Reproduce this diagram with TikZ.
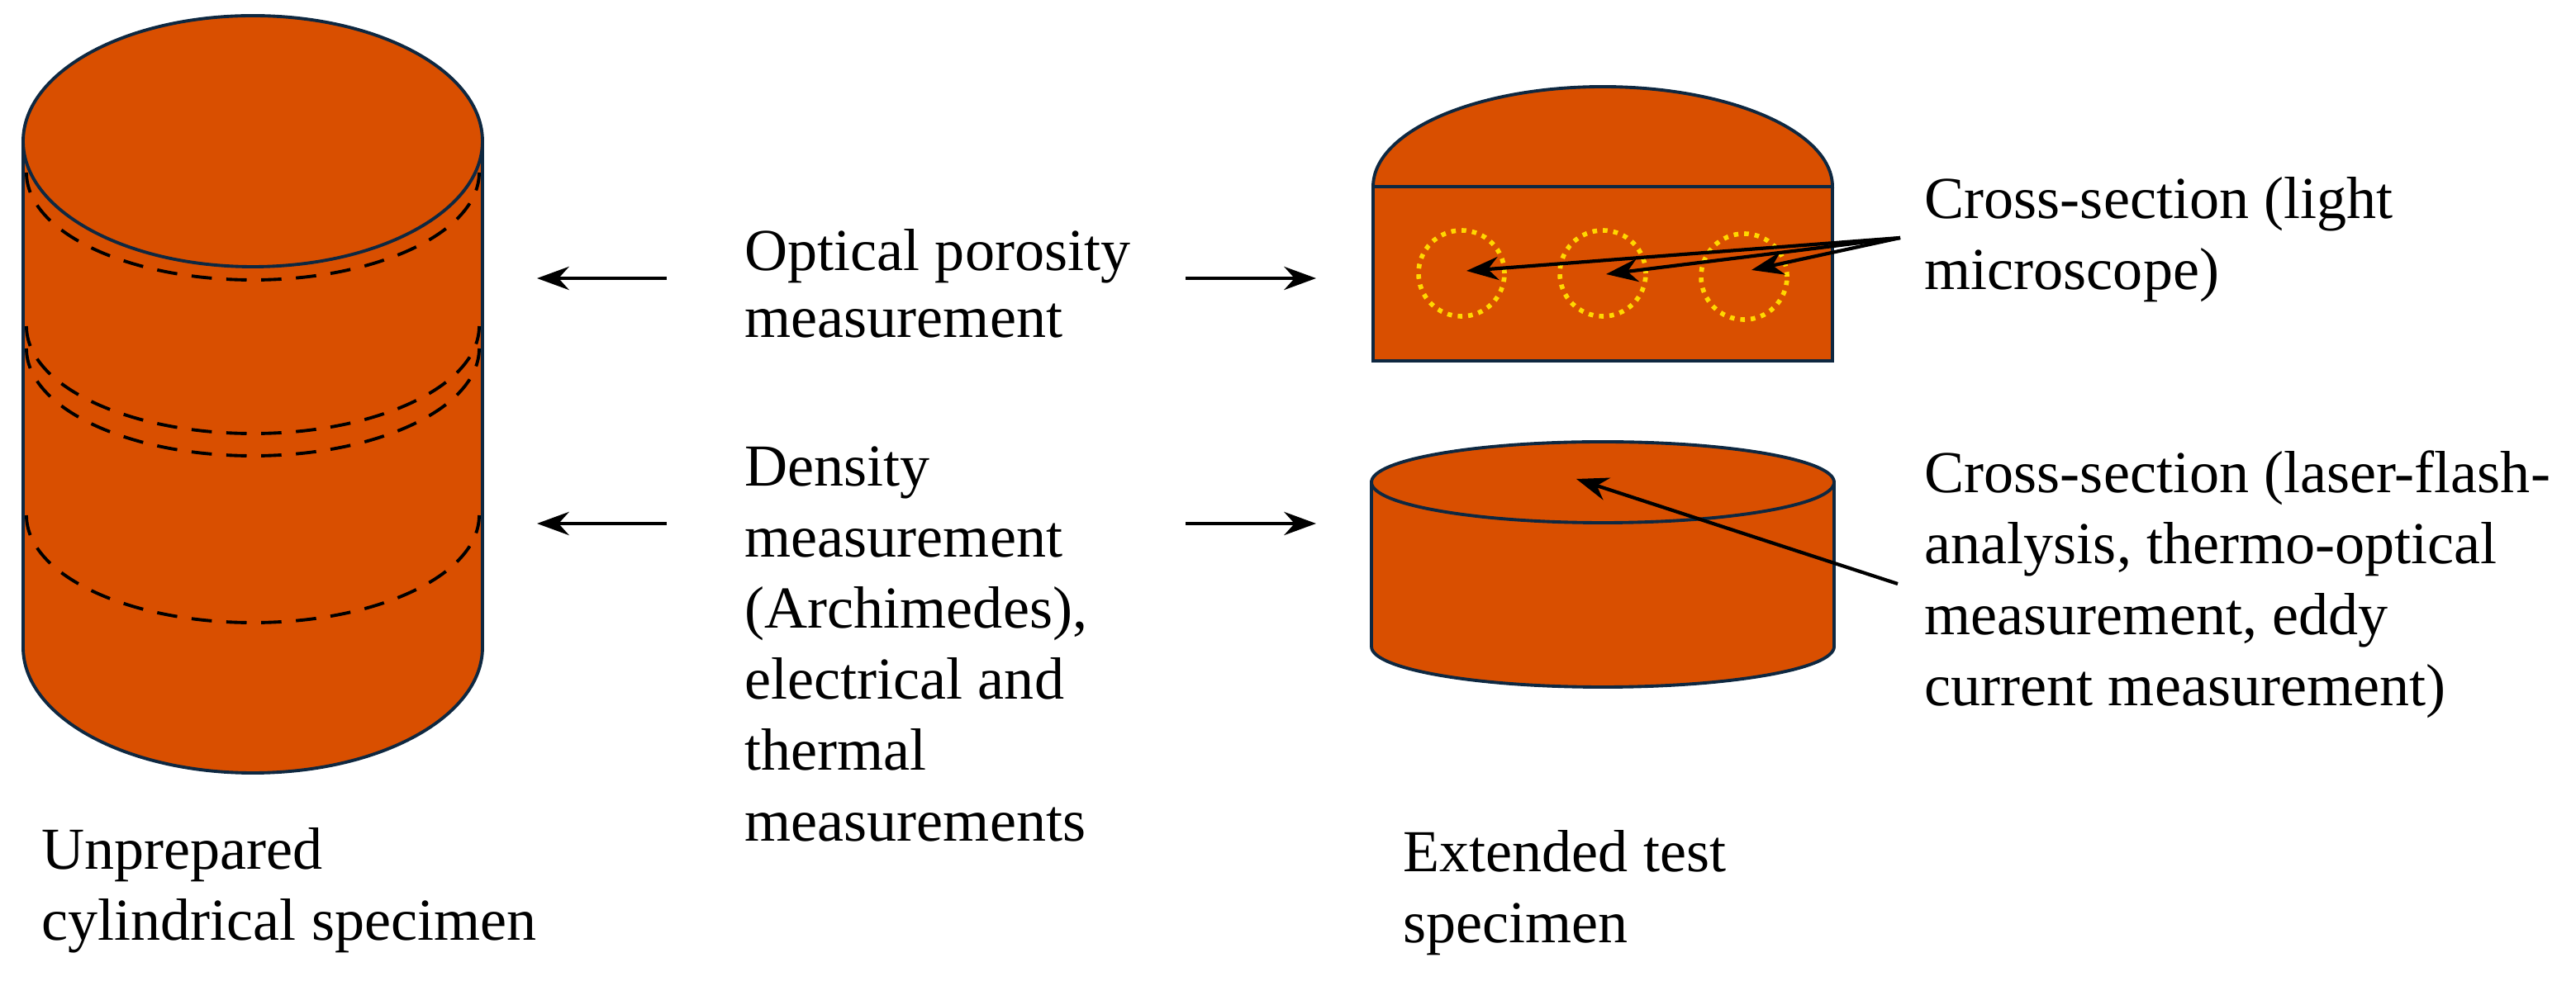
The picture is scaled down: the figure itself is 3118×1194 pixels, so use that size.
\documentclass[tikz,border=0pt]{standalone}
\usepackage{fontspec}
\setmainfont{Liberation Serif}
\usetikzlibrary{arrows.meta}
\definecolor{fillor}{HTML}{D94F00}
\definecolor{edge}{HTML}{0E2841}
\definecolor{pore}{HTML}{FFD800}
\begin{document}
\begin{tikzpicture}[x=0.01cm,y=0.01cm,
  solid/.style={fill=fillor,draw=edge,line width=1.1pt},
  cut/.style={black,line width=1.1pt,dash pattern=on 7pt off 5pt},
  arr/.style={-{Stealth[length=11pt,width=8pt]},line width=1.2pt,black},
  lab/.style={anchor=west,align=left,inner sep=0pt,font=\fontsize{20.5pt}{23pt}\selectfont}]
\useasboundingbox (0,0) rectangle (3118,1194);
% big cylinder
\draw[solid] (28,1023) -- (28,410) arc[start angle=180,end angle=360,x radius=278,y radius=152] -- (584,1023) -- cycle;
\draw[solid] (306,1023) ellipse[x radius=278,y radius=152];
\foreach \c in {985,799,772,570}
  \draw[cut] (32,\c) arc[start angle=180,end angle=360,x radius=274,y radius=130];
% top right specimen
\draw[solid] (1662,968) arc[start angle=180,end angle=0,x radius=278,y radius=121] -- cycle;
\draw[solid] (1662,757) rectangle (2218,968);
\node[circle,draw=pore,dotted,line width=1.6pt,minimum size=1.04cm,inner sep=0pt] (p1) at (1769,863) {};
\node[circle,draw=pore,dotted,line width=1.6pt,minimum size=1.04cm,inner sep=0pt] (p2) at (1940,863) {};
\node[circle,draw=pore,dotted,line width=1.6pt,minimum size=1.04cm,inner sep=0pt] (p3) at (2111,859) {};
% small cylinder
\draw[solid] (1660,610) -- (1660,411) arc[start angle=180,end angle=360,x radius=280,y radius=49] -- (2220,610) -- cycle;
\draw[solid] (1940,610) ellipse[x radius=280,y radius=49];
% texts
\node[lab] (opt) at (901,851) {Optical porosity\\measurement};
\node[lab,font=\fontsize{20.5pt}{24.5pt}\selectfont] (den) at (901,414) {Density\\measurement\\(Archimedes),\\electrical and\\thermal\\measurements};
\node[lab,font=\fontsize{20.5pt}{24.5pt}\selectfont] (unp) at (50,116) {Unprepared\\cylindrical specimen};
\node[lab,font=\fontsize{20.5pt}{24.5pt}\selectfont] (ext) at (1698,113) {Extended test\\specimen};
\node[lab,font=\fontsize{20.5pt}{24.5pt}\selectfont] (csl) at (2329,904) {Cross-section (light\\microscope)};
\node[lab,font=\fontsize{20.5pt}{24.5pt}\selectfont] (csf) at (2329,486) {Cross-section (laser-flash-\\analysis, thermo-optical\\measurement, eddy\\current measurement)};
% arrows
\coordinate (l1s) at (807,857); \coordinate (l1e) at (650,857);
\coordinate (l2s) at (807,560); \coordinate (l2e) at (650,560);
\coordinate (r1s) at (1435,857); \coordinate (r1e) at (1593,857);
\coordinate (r2s) at (1435,560); \coordinate (r2e) at (1593,560);
\draw[arr] (l1s) -- (l1e);
\draw[arr] (l2s) -- (l2e);
\draw[arr] (r1s) -- (r1e);
\draw[arr] (r2s) -- (r2e);
\coordinate (src1) at (2300,906);
\draw[arr] (src1) -- (1775,866);
\draw[arr] (src1) -- (1944,862);
\draw[arr] (src1) -- (2120,867);
\coordinate (src2) at (2297,487);
\coordinate (tip2) at (1908,614);
\draw[arr] (src2) -- (tip2);
\end{tikzpicture}
\end{document}
